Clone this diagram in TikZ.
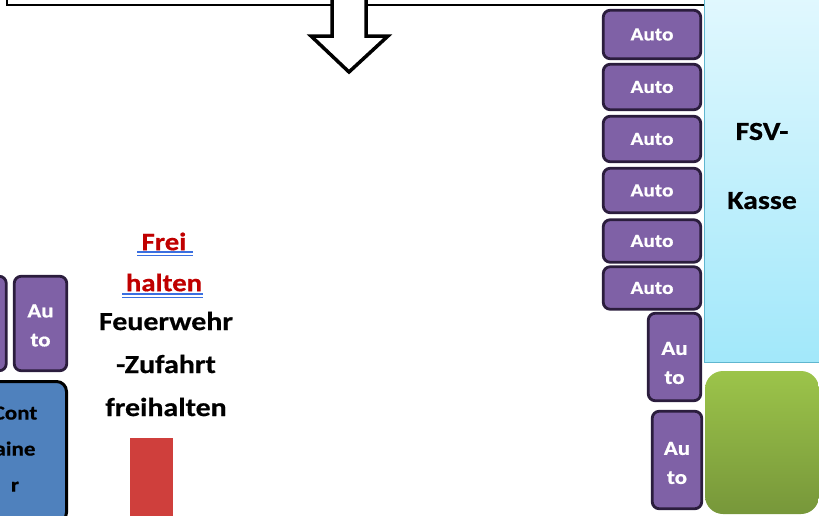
\documentclass[tikz,border=0pt]{standalone}
\usepackage{fontspec}
\newfontfamily\calb[FakeStretch=1.15,FakeBold=0.6]{Carlito Bold}
\definecolor{autofill}{HTML}{7F61A6}
\definecolor{autoborder}{HTML}{2B1D3D}
\definecolor{contfill}{HTML}{4F81BD}
\definecolor{kasseTop}{HTML}{E2F8FE}
\definecolor{kasseBot}{HTML}{A2E8FA}
\definecolor{kasseBorder}{HTML}{5FB6CF}
\definecolor{greenTop}{HTML}{9CC44A}
\definecolor{greenBot}{HTML}{77973A}
\definecolor{redtext}{HTML}{C00000}
\definecolor{redbar}{HTML}{CF3F3C}
\definecolor{ulblue}{HTML}{3A6FE0}
\tikzset{
  autobox/.style={draw=autoborder, fill=autofill, line width=2.8pt, rounded corners=7pt,
    text=white, font=\calb\fontsize{18.5}{22}\selectfont, inner sep=0pt},
  autotall/.style={autobox, align=center, font=\calb\fontsize{20}{29}\selectfont},
  autotext/.style={text=white, align=center, font=\calb\fontsize{20}{29}\selectfont, inner sep=0pt},
  bigtext/.style={font=\calb\fontsize{26}{43}\selectfont, align=center, inner sep=0pt},
}
\begin{document}
\begin{tikzpicture}[x=1pt,y=-1pt]
\useasboundingbox (0,0) rectangle (819,515);
\clip (0,0) rectangle (819,515);
% top box
\draw[line width=2pt, fill=white] (7,-20) rectangle (708,5);
% block arrow
\draw[line width=3.5pt, fill=white, miter limit=10] (332,-10) -- (332,36) -- (311,36) -- (349,72) -- (388,36) -- (366,36) -- (366,-10);
% FSV-Kasse
\shade[top color=kasseTop, bottom color=kasseBot] (704.5,-10) rectangle (830,362);
\draw[kasseBorder, line width=1pt] (704.5,-10) -- (704.5,362) -- (830,362);
\node[bigtext, font=\calb\fontsize{26}{69}\selectfont] (kasse) at (762,166) {FSV-\\Kasse};
% green block
\shade[top color=greenTop, bottom color=greenBot, rounded corners=18pt] (705,371) rectangle (819,514);
% auto column
\node[autobox, minimum width=97.5pt, minimum height=48.5pt] (a1) at (652,34.5) {Auto};
\node[autobox, minimum width=97.5pt, minimum height=45.5pt] (a2) at (652,87) {Auto};
\node[autobox, minimum width=97.5pt, minimum height=45.5pt] (a3) at (652,139) {Auto};
\node[autobox, minimum width=97.5pt, minimum height=44.5pt] (a4) at (652,190.5) {Auto};
\node[autobox, minimum width=97.5pt, minimum height=42.5pt] (a5) at (652,241) {Auto};
\node[autobox, minimum width=97.5pt, minimum height=42.5pt] (a6) at (652,288) {Auto};
\node[autotall, minimum width=52.5pt, minimum height=87.5pt] (a7) at (674.5,357) {};
\node[autotext] (a7t) at (674.5,363) {Au\\to};
\node[autotall, minimum width=49.5pt, minimum height=97.5pt] (a8) at (677,460) {};
\node[autotext] (a8t) at (677,463) {Au\\to};
% left side
\node[autotall, minimum width=52.5pt, minimum height=94.5pt] (l0) at (-20,323.5) {};
\node[autotall, minimum width=52.5pt, minimum height=94.5pt] (l1) at (40.5,323.5) {};
\node[autotext] (l1t) at (40.5,325.5) {Au\\to};
\node[draw=black, fill=contfill, line width=3pt, rounded corners=10pt, minimum width=103pt, minimum height=141pt] (cont) at (15,452) {};
\node[align=center, font=\calb\fontsize{20}{36}\selectfont, inner sep=0pt] (contt) at (15,449) {Cont\\aine\\r};
% texts
\node[bigtext, font=\calb\fontsize{25}{41}\selectfont, text=redtext] (frei) at (164,262) {Frei\\halten};
\draw[ulblue, line width=1.4pt] (137,252) -- (193,252) (137,255.5) -- (193,255.5);
\draw[ulblue, line width=1.4pt] (122,294) -- (203,294) (122,297.5) -- (203,297.5);
\node[bigtext] (fw) at (166,364) {Feuerwehr\\-Zufahrt\\freihalten};
% red bar
\fill[redbar] (130,438) rectangle (173,520);
\end{tikzpicture}
\end{document}
